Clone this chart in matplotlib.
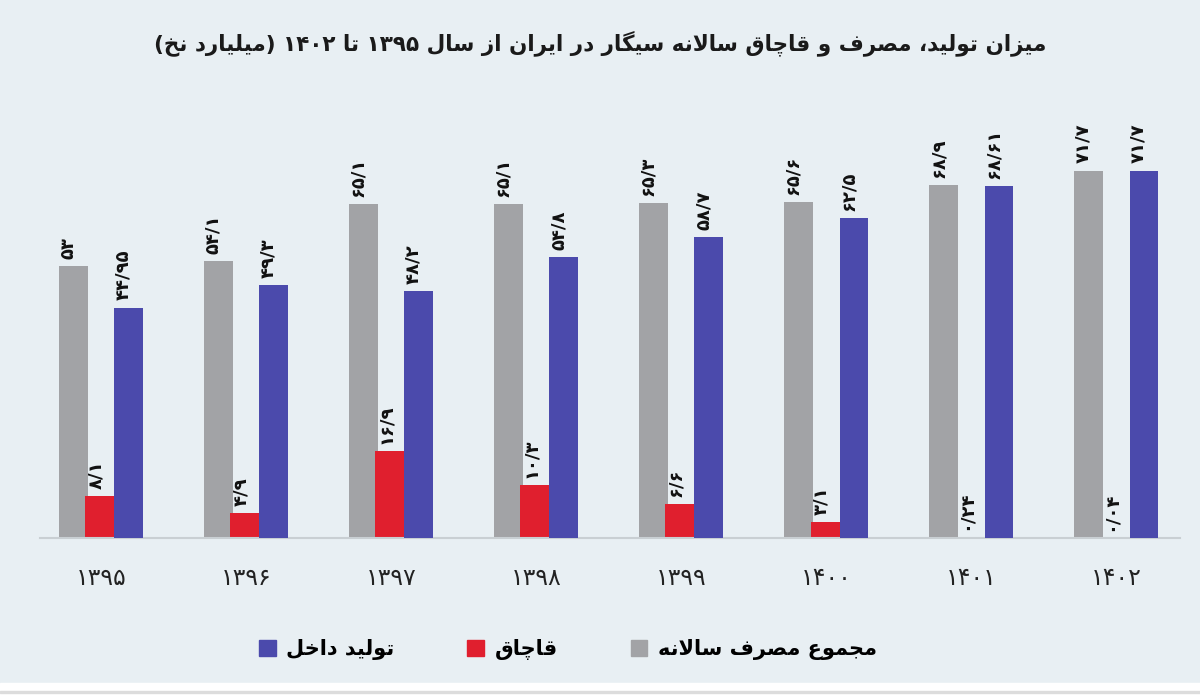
import re
import numpy as np
import matplotlib
matplotlib.use("Agg")
import matplotlib.pyplot as plt
from matplotlib.patches import Patch, Rectangle

plt.rcParams["font.family"] = ["DejaVu Sans"]

# data (billion cigarettes)
years    = [1395, 1396, 1397, 1398, 1399, 1400, 1401, 1402]
total    = [53.0, 54.1, 65.1, 65.1, 65.3, 65.6, 68.9, 71.7]
smuggled = [8.1, 4.9, 16.9, 10.3, 6.6, 3.1, 0.24, 0.04]
domestic = [44.95, 49.3, 48.2, 54.8, 58.7, 62.5, 68.61, 71.7]

title_txt  = "میزان تولید، مصرف و قاچاق سالانه سیگار در ایران از سال ۱۳۹۵ تا ۱۴۰۲ (میلیارد نخ)"
lbl_dom    = "تولید داخل"
lbl_smug   = "قاچاق"
lbl_total  = "مجموع مصرف سالانه"

c_gray = "#a2a3a6"
c_red  = "#e01f2e"
c_blue = "#4b4aac"
c_bg   = "#e8eff3"

# --- minimal arabic/persian shaping (matplotlib has no text shaping) ---
# isolated, final, initial, medial
FORMS = {
    "ا": ("\uFE8D", "\uFE8E", None, None),
    "ب": ("\uFE8F", "\uFE90", "\uFE91", "\uFE92"),
    "ت": ("\uFE95", "\uFE96", "\uFE97", "\uFE98"),
    "ج": ("\uFE9D", "\uFE9E", "\uFE9F", "\uFEA0"),
    "چ": ("\uFB7A", "\uFB7B", "\uFB7C", "\uFB7D"),
    "خ": ("\uFEA5", "\uFEA6", "\uFEA7", "\uFEA8"),
    "د": ("\uFEA9", "\uFEAA", None, None),
    "ر": ("\uFEAD", "\uFEAE", None, None),
    "ز": ("\uFEAF", "\uFEB0", None, None),
    "س": ("\uFEB1", "\uFEB2", "\uFEB3", "\uFEB4"),
    "ص": ("\uFEB9", "\uFEBA", "\uFEBB", "\uFEBC"),
    "ع": ("\uFEC9", "\uFECA", "\uFECB", "\uFECC"),
    "ف": ("\uFED1", "\uFED2", "\uFED3", "\uFED4"),
    "ق": ("\uFED5", "\uFED6", "\uFED7", "\uFED8"),
    "گ": ("\uFB92", "\uFB93", "\uFB94", "\uFB95"),
    "ل": ("\uFEDD", "\uFEDE", "\uFEDF", "\uFEE0"),
    "م": ("\uFEE1", "\uFEE2", "\uFEE3", "\uFEE4"),
    "ن": ("\uFEE5", "\uFEE6", "\uFEE7", "\uFEE8"),
    "ه": ("\uFEE9", "\uFEEA", "\uFEEB", "\uFEEC"),
    "و": ("\uFEED", "\uFEEE", None, None),
    "ی": ("\uFBFC", "\uFBFD", "\uFBFE", "\uFBFF"),
}

def joins_next(c):
    return c in FORMS and FORMS[c][2] is not None

def shape(s):
    res = []
    i = 0
    while i < len(s):
        c = s[i]
        if c not in FORMS:
            res.append(c)
            i += 1
            continue
        conn_prev = i > 0 and joins_next(s[i - 1])
        if c == "ل" and i + 1 < len(s) and s[i + 1] == "ا":
            res.append("\uFEFC" if conn_prev else "\uFEFB")
            i += 2
            continue
        conn_next = joins_next(c) and i + 1 < len(s) and s[i + 1] in FORMS
        iso, fin, ini, med = FORMS[c]
        if conn_prev and conn_next:
            res.append(med)
        elif conn_prev:
            res.append(fin)
        elif conn_next:
            res.append(ini)
        else:
            res.append(iso)
        i += 1
    return "".join(res)

def rtl(s):
    out = shape(s)[::-1]
    out = re.sub(r"[۰-۹][۰-۹/]*", lambda m: m.group(0)[::-1], out)
    return out.translate(str.maketrans("()", ")("))

FA_DIGITS = str.maketrans("0123456789.", "۰۱۲۳۴۵۶۷۸۹/")

def fa(v):
    return ("%g" % v).translate(FA_DIGITS)

# --- figure ---
fig = plt.figure(figsize=(12, 6.97), dpi=100)
fig.patch.set_facecolor(c_bg)
# white strip at the bottom
fig.patches.append(Rectangle((0, 0), 1, 14 / 697, transform=fig.transFigure, color="white", zorder=0))
fig.patches.append(Rectangle((0, 4 / 697), 1, 2 / 697, transform=fig.transFigure, color="#dcdcdc", zorder=0))

ax = fig.add_axes([40 / 1200, 159 / 697, 1140 / 1200, 410 / 697])
ax.set_facecolor("none")

x = np.arange(len(years))
w = 0.195
ax.bar(x - 0.19, total, w, color=c_gray, zorder=2)
ax.bar(x, smuggled, w + 0.02, color=c_red, zorder=2)
ax.bar(x + 0.19, domestic, w, color=c_blue, zorder=3)

# value labels, read bottom to top
for xs, vals in [(x - 0.19, total), (x, smuggled), (x + 0.19, domestic)]:
    for xi, v in zip(xs, vals):
        ax.text(xi - 0.035, v + 1.4, fa(v), rotation=90, ha="center", va="bottom",
                fontsize=13, fontweight="bold", color="#111111", zorder=4)

ax.set_xlim(-0.42, 7.44)
ax.set_ylim(0, 80)
ax.set_xticks(x)
ax.set_xticklabels([fa(y) for y in years], fontsize=17, color="#222222")
ax.tick_params(axis="x", length=0, pad=20)
ax.set_yticks([])
for s in ["top", "left", "right"]:
    ax.spines[s].set_visible(False)
ax.spines["bottom"].set_color("#c9cfd3")
ax.spines["bottom"].set_linewidth(1.5)

fig.text(0.5, 1 - 43 / 697, rtl(title_txt), ha="center", va="center",
         fontsize=15.5, fontweight="bold", color="#1a1a1a")

handles = [Patch(color=c_blue), Patch(color=c_red), Patch(color=c_gray)]
labels = [rtl(lbl_dom), rtl(lbl_smug), rtl(lbl_total)]
fig.legend(handles, labels, loc="center", bbox_to_anchor=(568 / 1200, 1 - 650 / 697),
           ncol=3, frameon=False, handlelength=0.8, handleheight=0.8,
           handletextpad=0.5, columnspacing=3.5,
           prop={"size": 15, "weight": "bold"})

plt.savefig("out.png", dpi=100, facecolor=fig.get_facecolor())
plt.close()
